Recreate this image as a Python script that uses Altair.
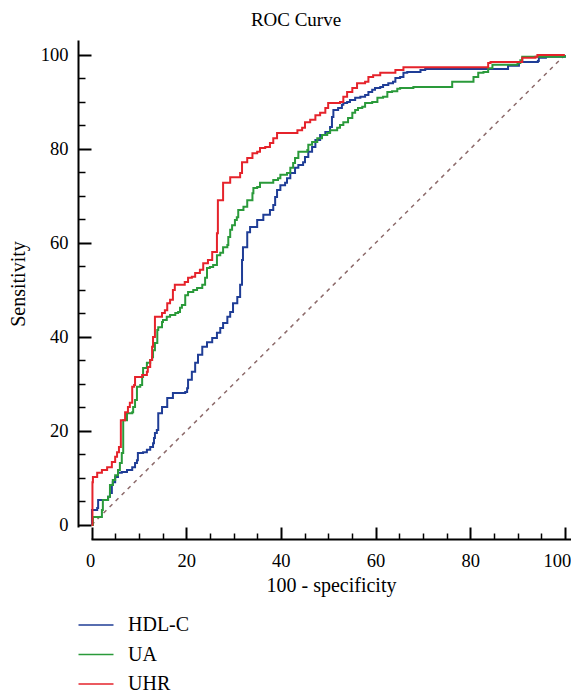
import altair as alt
import pandas as pd

# ---------------- data ----------------
series_names = ["HDL-C", "UA", "UHR"]
series_colors = ["#1f3d96", "#2a9a3a", "#e5232b"]

hdl_x = [0, 0.1, 0.7, 1.2, 1.4, 3.3, 3.5, 3.9, 4.3, 4.5, 5.0, 5.6, 6.4, 7.5, 8.6, 9.2, 9.6, 9.8,
         10.9, 11.7, 12.4, 13.0, 13.2, 13.4, 13.8, 14.1, 14.1, 14.9, 16.0, 17.2, 19.8, 20.2, 20.4,
         21.2, 21.9, 22.5, 23.4, 24.4, 25.5, 26.5, 27.2, 27.8, 28.7, 29.3, 29.9, 30.8, 31.4, 31.8,
         32.0, 32.9, 33.5, 35.0, 36.3, 37.7, 38.4, 38.8, 39.2, 39.9, 40.9, 41.3, 42.0, 43.0, 43.7,
         44.7, 45.1, 45.8, 46.6, 47.3, 48.3, 49.4, 50.4, 50.8, 51.1, 52.1, 52.9, 53.2, 54.0, 54.6,
         55.7, 56.8, 57.8, 58.5, 59.3, 59.9, 61.0, 61.6, 62.7, 63.7, 64.2, 65.2, 65.9, 66.7, 68.0,
         69.5, 70.5, 87.1, 88.0, 90.1, 90.3, 94.3, 94.5, 96.0, 100]
hdl_y = [0, 3.2, 3.2, 3.6, 5.3, 5.3, 6.0, 6.8, 8.5, 9.1, 10.2, 11.1, 11.3, 11.7, 12.3, 13.2, 13.8, 15.3,
         15.5, 16.0, 16.6, 17.4, 18.5, 19.6, 20.2, 21.3, 23.8, 25.1, 27.0, 28.1, 28.3, 29.1, 30.9,
         32.6, 34.5, 36.2, 37.9, 38.9, 39.8, 40.9, 41.9, 43.0, 44.3, 45.3, 47.2, 48.5, 51.1, 56.4,
         59.1, 62.3, 63.4, 64.9, 66.0, 67.0, 68.1, 69.8, 71.3, 72.3, 72.8, 73.8, 74.9, 76.0, 76.6,
         77.2, 78.3, 79.4, 80.4, 81.9, 83.0, 83.6, 84.7, 86.8, 88.3, 88.7, 89.4, 89.8, 90.0, 90.4,
         90.9, 91.1, 91.5, 92.1, 92.6, 93.0, 93.2, 93.6, 94.0, 94.3, 95.1, 95.3, 96.2, 96.4, 96.4,
         96.8, 97.0, 97.0, 97.7, 97.7, 98.5, 98.7, 99.4, 99.6, 100]

ua_x = [0, 0.3, 1.8, 2.2, 2.4, 3.5, 3.9, 4.5, 5.0, 5.6, 6.0, 6.4, 6.7, 6.7, 7.5, 8.6, 8.8, 9.2, 9.6,
        10.3, 10.7, 10.9, 11.7, 12.4, 12.8, 13.0, 13.4, 13.9, 14.1, 14.9, 15.1, 15.9, 16.6, 17.7,
        18.3, 18.7, 19.1, 19.8, 19.8, 20.4, 21.5, 22.3, 23.4, 24.0, 24.4, 25.0, 25.7, 26.5, 27.2,
        27.8, 28.7, 28.9, 29.3, 29.7, 30.3, 30.7, 31.0, 32.1, 32.9, 34.0, 34.2, 35.0, 35.6, 37.7,
        38.4, 39.4, 39.9, 41.3, 42.0, 42.6, 43.0, 43.7, 45.6, 45.8, 46.6, 47.7, 48.7, 49.8, 50.4,
        51.9, 52.5, 53.2, 54.2, 55.1, 55.7, 56.3, 57.2, 57.8, 59.3, 60.4, 61.6, 62.5, 63.5, 64.6,
        65.2, 68.0, 76.2, 80.5, 80.7, 81.5, 81.7, 82.8, 83.8, 84.7, 90.0, 90.6, 91.0, 95.5, 100]
ua_y = [0, 1.7, 1.7, 3.2, 5.3, 6.0, 8.5, 9.6, 10.6, 11.7, 13.2, 15.3, 19.6, 22.3, 23.8, 24.0, 25.1, 26.6, 29.4,
        29.8, 31.5, 33.4, 34.5, 35.1, 35.7, 37.2, 38.7, 41.5, 42.1, 43.2, 43.6, 44.3, 44.7, 45.1,
        45.3, 46.2, 46.8, 47.9, 48.9, 49.6, 50.0, 50.4, 51.1, 52.6, 54.7, 54.9, 55.3, 57.4, 57.9,
        59.1, 59.6, 61.3, 62.8, 63.8, 64.9, 65.5, 67.0, 67.7, 69.1, 70.6, 71.7, 71.9, 72.8, 72.8,
        73.4, 73.8, 74.5, 74.9, 76.0, 77.0, 78.1, 79.4, 79.8, 80.9, 81.5, 82.3, 83.0, 83.4, 84.0,
        84.5, 85.1, 85.7, 86.6, 87.7, 88.3, 88.7, 89.0, 89.8, 90.0, 90.9, 91.1, 92.1, 92.3, 92.8,
        93.0, 93.2, 94.3, 94.3, 95.3, 95.3, 96.2, 96.4, 97.2, 97.9, 98.3, 98.9, 99.6, 99.6, 100]

uhr_x = [0, 0.2, 0.3, 1.2, 2.2, 3.3, 4.3, 5.0, 5.4, 5.8, 6.2, 6.2, 7.1, 7.7, 8.1, 8.6, 9.0, 9.2, 10.3,
         10.7, 11.7, 11.9, 12.4, 12.8, 13.0, 13.4, 14.5, 14.9, 15.5, 16.0, 16.6, 17.2, 17.6, 18.7,
         19.7, 20.4, 21.2, 21.9, 22.9, 23.6, 24.6, 25.5, 26.1, 26.5, 26.7, 26.7, 27.8, 27.8, 29.3,
         31.4, 31.8, 32.9, 34.0, 35.0, 35.6, 36.7, 37.7, 38.4, 39.2, 42.4, 43.5, 44.5, 45.1, 46.2,
         47.3, 48.3, 49.4, 50.0, 52.5, 53.2, 54.0, 55.1, 56.1, 57.8, 58.5, 59.5, 61.0, 64.2, 65.9,
         82.6, 83.8, 84.3, 90.6, 91.0, 93.8, 94.2, 100]
uhr_y = [0, 9.1, 10.2, 11.1, 11.7, 12.3, 13.4, 14.5, 15.5, 16.6, 18.1, 22.3, 24.0, 25.1, 26.0, 29.4, 29.8, 31.5, 31.5,
         31.9, 32.6, 33.6, 35.1, 37.9, 40.0, 44.3, 44.3, 45.1, 45.7, 47.2, 47.9, 50.0, 51.1, 51.1,
         51.7, 52.6, 52.8, 53.6, 54.3, 55.7, 56.4, 58.1, 58.1, 62.1, 64.9, 69.1, 69.6, 72.8, 74.0,
         74.9, 77.2, 78.1, 79.1, 79.4, 80.2, 80.4, 81.3, 82.3, 83.4, 83.4, 84.0, 84.5, 85.7, 86.2,
         87.2, 87.7, 88.7, 89.8, 90.0, 91.1, 92.1, 93.0, 94.0, 94.3, 95.3, 95.7, 96.2, 96.8, 97.4,
         97.4, 98.3, 98.5, 98.5, 99.4, 99.6, 100, 100]

diag_x = [0, 100]
diag_y = [0, 100]

major_ticks = [0, 20, 40, 60, 80, 100]
minor_ticks = [5, 10, 15, 25, 30, 35, 45, 50, 55, 65, 70, 75, 85, 90, 95]

# ---------------- scales / styling ----------------
W, H = 480, 487
FONT = "Liberation Serif"
xscale = alt.Scale(domain=[-0.106, 101.3], nice=False, zero=False)
yscale = alt.Scale(domain=[-0.426, 103.19], nice=False, zero=False)

rows = []
for name, xs_, ys_ in [("HDL-C", hdl_x, hdl_y), ("UA", ua_x, ua_y), ("UHR", uhr_x, uhr_y)]:
    for i, (a, b) in enumerate(zip(xs_, ys_)):
        rows.append({"series": name, "fpr": a, "tpr": b, "idx": i})
df = pd.DataFrame(rows)
diag_df = pd.DataFrame({"fpr": diag_x, "tpr": diag_y})

x_axis = alt.Axis(orient="bottom", offset=12, title="100 - specificity", values=major_ticks,
                  grid=False, ticks=False, tickSize=0,
                  domainColor="black", domainWidth=2, labelFont=FONT, labelFontSize=18.5,
                  labelColor="black", labelPadding=12, labelFlush=8, labelFlushOffset=6,
                  titleFont=FONT, titleFontSize=20,
                  titleFontWeight="normal", titleColor="black", titlePadding=6)
y_axis = alt.Axis(orient="left", offset=13, title="Sensitivity", values=major_ticks,
                  grid=False, ticks=False, tickSize=0,
                  domainColor="black", domainWidth=2, labelFont=FONT, labelFontSize=18.5,
                  labelColor="black", labelPadding=10, titleFont=FONT, titleFontSize=20,
                  titleFontWeight="normal", titleColor="black", titlePadding=12)
x_axis_major = alt.Axis(orient="bottom", offset=0, title=None, values=major_ticks, grid=False,
                        labels=False, domain=False, ticks=True, tickSize=12, tickWidth=2,
                        tickColor="black")
y_axis_major = alt.Axis(orient="left", offset=0, title=None, values=major_ticks, grid=False,
                        labels=False, domain=False, ticks=True, tickSize=13, tickWidth=2,
                        tickColor="black")
x_axis_minor = alt.Axis(orient="bottom", offset=6, title=None, values=minor_ticks, grid=False,
                        labels=False, domain=False, ticks=True, tickSize=6, tickWidth=1.5,
                        tickColor="black")
y_axis_minor = alt.Axis(orient="left", offset=6, title=None, values=minor_ticks, grid=False,
                        labels=False, domain=False, ticks=True, tickSize=7, tickWidth=1.5,
                        tickColor="black")

lines = alt.Chart(df).mark_line(interpolate="step-after", strokeWidth=2, clip=False).encode(
    x=alt.X("fpr:Q", scale=xscale, axis=x_axis),
    y=alt.Y("tpr:Q", scale=yscale, axis=y_axis),
    color=alt.Color("series:N", scale=alt.Scale(domain=series_names, range=series_colors),
                    legend=alt.Legend(title=None, orient="none", legendX=-5, legendY=575,
                                      direction="vertical", symbolType="M-2,0H2",
                                      symbolSize=306, symbolStrokeWidth=1.5, padding=0,
                                      labelFont=FONT, labelFontSize=20, labelColor="black",
                                      labelOffset=22, rowPadding=9.5)),
    order="idx:Q",
)

diag = alt.Chart(diag_df).mark_line(color="#8c6a6a", strokeWidth=1.5, strokeDash=[4, 4.5]).encode(
    x=alt.X("fpr:Q", scale=xscale, axis=x_axis_major),
    y=alt.Y("tpr:Q", scale=yscale, axis=y_axis_major),
)

minor_holder = alt.Chart(diag_df).mark_line(opacity=0).encode(
    x=alt.X("fpr:Q", scale=xscale, axis=x_axis_minor),
    y=alt.Y("tpr:Q", scale=yscale, axis=y_axis_minor),
)

chart = alt.layer(diag, minor_holder, lines).resolve_axis(x="independent", y="independent").properties(
    width=W, height=H,
    title=alt.Title("ROC Curve", font=FONT, fontSize=19, fontWeight="normal", color="black",
                    anchor="middle", dx=-35, offset=10),
    autosize=alt.AutoSizeParams(type="none"),
    padding={"left": 83, "top": 32, "right": 0, "bottom": 168},
).configure_view(stroke=None)

chart.save("out.html", embed_options={"renderer": "svg", "actions": False})
